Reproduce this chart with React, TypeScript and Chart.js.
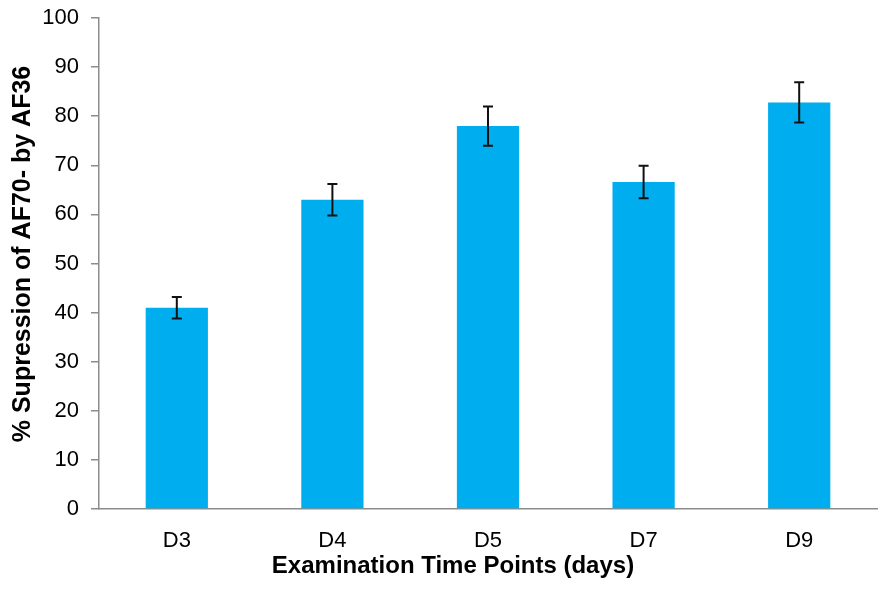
import React, { useEffect, useRef } from 'react';
import { Chart, registerables } from 'chart.js';

Chart.register(...registerables);

const timePoints = ['D3', 'D4', 'D5', 'D7', 'D9'];
const suppression = [41, 63, 78, 66.6, 82.8];
const suppressionError = [2.2, 3.2, 4.0, 3.3, 4.1];

const xTitle = 'Examination Time Points (days)';
const yTitle = '% Supression of AF70- by AF36';

const FONT = "'Liberation Sans', Arial, sans-serif";

// draws the error bars on top of each bar
const errorBarPlugin = {
    id: 'errorBars',
    afterDatasetsDraw(chart: any) {
        const ctx = chart.ctx;
        const yScale = chart.scales.y;
        const meta = chart.getDatasetMeta(0);
        ctx.save();
        ctx.strokeStyle = '#111';
        ctx.lineWidth = 2;
        meta.data.forEach((bar: any, i: number) => {
            const v = suppression[i];
            const e = suppressionError[i];
            const top = yScale.getPixelForValue(v + e);
            const bottom = yScale.getPixelForValue(v - e);
            const x = bar.x;
            ctx.beginPath();
            ctx.moveTo(x, top);
            ctx.lineTo(x, bottom);
            ctx.moveTo(x - 5, top);
            ctx.lineTo(x + 5, top);
            ctx.moveTo(x - 5, bottom);
            ctx.lineTo(x + 5, bottom);
            ctx.stroke();
        });
        ctx.restore();
    }
};

// axis titles placed where the original has them
const axisTitlePlugin = {
    id: 'axisTitles',
    afterDraw(chart: any) {
        const ctx = chart.ctx;
        ctx.save();
        ctx.fillStyle = '#000';
        ctx.textAlign = 'center';
        ctx.textBaseline = 'middle';
        ctx.font = `bold 24px ${FONT}`;
        ctx.fillText(xTitle, 453, 566);
        ctx.translate(23, 254);
        ctx.rotate(-Math.PI / 2);
        ctx.font = `bold 25px ${FONT}`;
        ctx.fillText(yTitle, 0, 0);
        ctx.restore();
    }
};

const App: React.FC = () => {
    const chartRef = useRef<HTMLCanvasElement>(null);
    const chartInstance = useRef<Chart | null>(null);

    useEffect(() => {
        if (!chartRef.current) return;
        if (chartInstance.current) {
            chartInstance.current.destroy();
        }
        const ctx = chartRef.current.getContext('2d');
        if (!ctx) return;

        chartInstance.current = new Chart(ctx, {
            type: 'bar',
            data: {
                labels: timePoints,
                datasets: [{
                    label: yTitle,
                    data: suppression,
                    backgroundColor: '#00AEEF',
                    borderWidth: 0,
                    categoryPercentage: 1,
                    barPercentage: 0.4
                }]
            },
            options: {
                animation: false,
                responsive: true,
                maintainAspectRatio: false,
                layout: {
                    padding: { left: 0, top: 18, right: 15, bottom: 0 }
                },
                plugins: {
                    legend: { display: false },
                    tooltip: { enabled: false }
                },
                scales: {
                    x: {
                        grid: { display: false, drawTicks: false },
                        border: { display: true, color: '#8c8c8c', width: 1.5 },
                        ticks: {
                            color: '#000',
                            font: { family: FONT, size: 22 },
                            padding: 19
                        },
                        afterFit: (scale: any) => {
                            scale.height = 80;
                            scale.paddingLeft = 0;
                            scale.paddingRight = 0;
                        }
                    },
                    y: {
                        min: 0,
                        max: 100,
                        grid: {
                            drawOnChartArea: false,
                            drawTicks: true,
                            tickLength: 8,
                            color: '#8c8c8c',
                            lineWidth: 1.5
                        },
                        border: { display: true, color: '#8c8c8c', width: 1.5 },
                        ticks: {
                            stepSize: 10,
                            color: '#000',
                            font: { family: FONT, size: 22 },
                            padding: 12
                        },
                        afterFit: (scale: any) => {
                            scale.width = 99;
                            scale.paddingTop = 0;
                            scale.paddingBottom = 0;
                        }
                    }
                }
            },
            plugins: [errorBarPlugin, axisTitlePlugin]
        });

        return () => {
            if (chartInstance.current) {
                chartInstance.current.destroy();
                chartInstance.current = null;
            }
        };
    }, []);

    return (
        <div style={{ position: 'absolute', left: 0, top: 0, width: 892, height: 589, background: '#fff' }}>
            <canvas ref={chartRef} />
        </div>
    );
};

export default App;
